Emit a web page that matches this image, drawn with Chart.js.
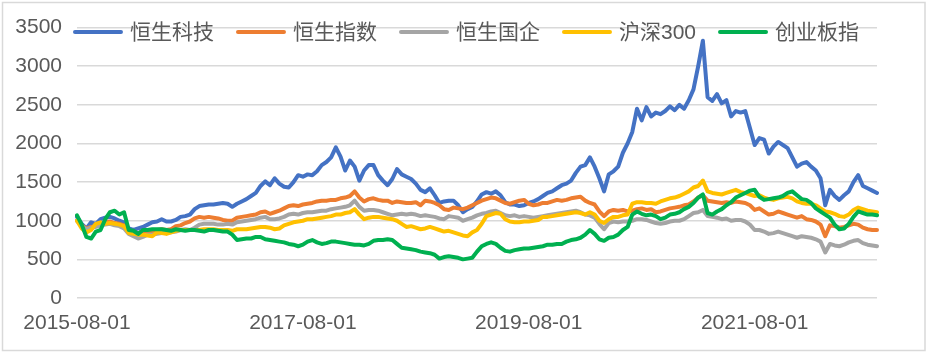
<!DOCTYPE html>
<html>
<head>
<meta charset="utf-8">
<script src="https://cdn.jsdelivr.net/npm/chart.js@4"></script>
<style>
html,body{margin:0;padding:0;background:#fff;}
#wrap{width:927px;height:352px;position:relative;}
</style>
</head>
<body>
<div id="wrap"><canvas id="c" width="927" height="352"></canvas></div>
<script>
// Semi-monthly category dates, 2015-08-01 .. 2022-09-01
const categories = [];
for (let i = 0; i < 171; i++) {
  const m = 7 + Math.floor(i / 2);
  const y = 2015 + Math.floor(m / 12);
  const mm = String(m % 12 + 1).padStart(2, '0');
  categories.push(y + '-' + mm + '-' + (i % 2 ? '16' : '01'));
}
const tickLabels = ['2015-08-01', '2017-08-01', '2019-08-01', '2021-08-01'];
const seriesNames = ['恒生科技', '恒生指数', '恒生国企', '沪深300', '创业板指'];
const seriesColors = ['#4472C4', '#ED7D31', '#A5A5A5', '#FFC000', '#00B050'];

const hsTech = [1050,960,900,980,960,1020,1040,1050,1030,1000,980,900,880,900,920,950,980,990,1020,990,
990,1010,1050,1060,1080,1150,1190,1200,1210,1210,1220,1230,1220,1180,1220,1250,1280,1320,1360,1450,
1510,1460,1550,1480,1440,1430,1500,1590,1570,1600,1590,1640,1720,1760,1820,1950,1830,1650,1780,1700,
1520,1650,1720,1720,1590,1520,1460,1540,1670,1600,1570,1540,1480,1400,1370,1420,1330,1230,1250,1260,
1260,1200,1110,1150,1180,1250,1340,1370,1350,1380,1330,1240,1210,1210,1190,1200,1230,1250,1280,1320,
1360,1380,1420,1460,1480,1520,1620,1700,1720,1820,1700,1550,1380,1600,1640,1700,1880,2000,2150,2450,
2300,2470,2350,2400,2380,2420,2480,2430,2500,2450,2560,2700,3000,3330,2600,2550,2640,2520,2560,2350,
2420,2400,2420,2200,1980,2070,2050,1870,1960,2020,1980,1940,1820,1700,1740,1760,1700,1650,1550,1200,
1400,1320,1270,1330,1380,1500,1590,1450,1420,1390,1360];

const hsi = [1000,940,900,920,930,960,980,990,970,960,940,870,850,840,860,870,860,880,890,880,
890,930,940,970,990,1030,1050,1040,1050,1040,1030,1010,1000,1000,1040,1050,1060,1070,1080,1110,
1120,1090,1110,1130,1160,1190,1200,1190,1210,1220,1230,1250,1260,1260,1270,1270,1290,1300,1320,1380,
1300,1250,1280,1290,1270,1260,1260,1230,1250,1240,1230,1230,1240,1200,1260,1250,1230,1200,1150,1140,
1170,1160,1150,1170,1200,1230,1260,1280,1300,1290,1260,1230,1220,1240,1260,1270,1220,1200,1210,1230,
1230,1250,1270,1260,1270,1290,1300,1310,1260,1230,1210,1120,1060,1120,1140,1130,1140,1120,1130,1150,
1160,1140,1150,1110,1120,1140,1160,1170,1180,1200,1210,1250,1300,1330,1260,1250,1240,1230,1240,1230,
1250,1240,1230,1200,1140,1160,1120,1080,1090,1120,1100,1080,1060,1040,1060,1020,1010,990,950,800,
940,930,910,920,940,960,950,910,890,880,880];

const hscei = [1000,930,890,910,920,940,950,960,940,930,900,830,800,770,790,820,820,830,840,840,
850,860,880,890,880,910,950,960,960,960,950,950,960,950,980,990,1000,1010,1020,1040,
1050,1020,1020,1030,1050,1080,1090,1080,1100,1110,1110,1120,1130,1130,1150,1160,1170,1180,1200,1260,
1180,1130,1140,1140,1130,1110,1090,1070,1080,1090,1080,1090,1080,1060,1070,1060,1050,1030,1020,1060,
1050,1040,1000,1020,1040,1070,1090,1100,1120,1130,1100,1070,1060,1070,1050,1060,1050,1040,1050,1060,
1070,1080,1090,1100,1110,1120,1130,1110,1080,1070,1040,960,890,970,990,980,990,990,1000,1020,
1020,1010,990,970,960,970,990,1000,1000,1020,1060,1100,1110,1140,1060,1050,1040,1020,1030,1000,
1010,1010,990,950,880,880,860,830,840,860,840,820,800,780,800,790,780,760,730,590,
700,680,670,690,720,740,750,710,690,680,670];

const csi300 = [1000,900,850,880,960,980,960,970,960,950,930,840,830,820,820,810,800,850,840,830,
850,870,880,880,880,880,880,890,890,890,880,880,880,870,890,890,890,900,910,920,
920,910,890,900,940,960,980,990,1000,1020,1020,1030,1040,1050,1060,1080,1080,1100,1110,1150,
1080,1020,1040,1050,1050,1040,1030,1020,1000,960,920,930,910,890,900,920,900,880,860,870,
850,830,810,800,850,880,960,1060,1080,1100,1090,1020,990,980,980,990,990,1000,1010,1050,
1050,1060,1070,1080,1090,1100,1110,1100,1080,1110,1080,1000,970,1020,1050,1050,1070,1080,1220,1240,
1240,1230,1230,1220,1250,1270,1290,1300,1320,1350,1380,1430,1450,1520,1380,1360,1350,1340,1360,1380,
1400,1370,1360,1340,1320,1330,1300,1280,1270,1290,1300,1310,1290,1250,1230,1220,1220,1200,1160,1120,
1110,1090,1060,1050,1080,1140,1170,1150,1130,1120,1110];

const chinext = [1070,950,790,770,860,880,1020,1110,1130,1080,1110,880,870,830,880,880,890,890,890,880,
870,890,880,870,880,880,870,860,880,880,870,860,860,820,750,760,770,770,790,790,
760,750,740,730,720,700,690,670,690,730,750,720,700,710,730,730,720,710,700,690,
690,680,700,740,750,750,760,750,700,650,640,630,620,600,590,580,560,510,530,540,
530,520,500,510,520,600,670,700,720,700,650,610,600,620,630,640,640,650,660,670,
690,690,700,700,730,750,760,780,820,880,830,760,740,780,790,820,880,920,1080,1120,
1090,1070,1080,1060,1020,1040,1080,1090,1110,1150,1180,1230,1300,1340,1100,1080,1120,1150,1200,1240,
1300,1330,1360,1390,1400,1310,1270,1280,1290,1300,1320,1360,1380,1330,1280,1270,1230,1160,1120,1080,
1040,950,890,900,960,1050,1120,1100,1080,1080,1070];

const yTicks = [0, 500, 1000, 1500, 2000, 2500, 3000, 3500];
const seriesData = [hsTech, hsi, hscei, csi300, chinext];
const FONT = "'Liberation Sans', 'Noto Sans CJK SC', sans-serif";
const TEXT = '#595959';

const frame = {
  id: 'frame',
  beforeDraw(chart) {
    const ctx = chart.ctx;
    ctx.save();
    ctx.fillStyle = '#fff';
    ctx.fillRect(0, 0, chart.width, chart.height);
    ctx.strokeStyle = '#d9d9d9';
    ctx.lineWidth = 1.5;
    ctx.strokeRect(2.5, 2.5, chart.width - 4.5, chart.height - 4);
    ctx.restore();
  }
};

const topLegend = {
  id: 'topLegend',
  afterDraw(chart) {
    const ctx = chart.ctx;
    ctx.save();
    ctx.font = '21px ' + FONT;
    const lineLen = 50, gapText = 7, gapItem = 22, cy = 32;
    const items = chart.data.datasets.map(d => ({ label: d.label, color: d.borderColor, w: ctx.measureText(d.label).width }));
    let total = items.reduce((s, it) => s + lineLen + gapText + it.w, 0) + gapItem * (items.length - 1);
    let x = 466 - total / 2;
    items.forEach(it => {
      ctx.strokeStyle = it.color;
      ctx.lineWidth = 4;
      ctx.lineCap = 'round';
      ctx.beginPath();
      ctx.moveTo(x + 2, cy);
      ctx.lineTo(x + lineLen - 2, cy);
      ctx.stroke();
      ctx.fillStyle = TEXT;
      ctx.textBaseline = 'middle';
      ctx.textAlign = 'left';
      ctx.fillText(it.label, x + lineLen + gapText, cy + 1);
      x += lineLen + gapText + it.w + gapItem;
    });
    ctx.restore();
  }
};

new Chart(document.getElementById('c'), {
  type: 'line',
  data: {
    labels: categories,
    datasets: seriesData.map((d, k) => ({
      label: seriesNames[k],
      data: d,
      borderColor: seriesColors[k],
      backgroundColor: seriesColors[k],
      borderWidth: 4,
      pointRadius: 0,
      tension: 0,
      borderJoinStyle: 'round',
      borderCapStyle: 'round',
      order: 5 - k
    }))
  },
  options: {
    responsive: false,
    animation: false,
    layout: { padding: { top: 20, right: 50, bottom: 0, left: 0 } },
    plugins: { legend: { display: false }, tooltip: { enabled: false } },
    scales: {
      x: {
        type: 'category',
        offset: false,
        grid: { display: false, drawTicks: false },
        border: { display: false },
        afterFit(s) { s.height = 54; },
        ticks: {
          autoSkip: false,
          maxRotation: 0,
          padding: 13,
          color: TEXT,
          font: { family: FONT, size: 21 },
          callback(v, i) { const l = categories[i]; return tickLabels.includes(l) ? l : ''; }
        }
      },
      y: {
        min: 0,
        max: 3500,
        afterFit(s) { s.width = 77; },
        afterBuildTicks(s) { s.ticks = yTicks.map(v => ({ value: v })); },
        grid: { color: '#d9d9d9', lineWidth: 1.5, drawTicks: false },
        border: { display: false },
        ticks: {
          padding: 15,
          color: TEXT,
          font: { family: FONT, size: 21 },
          callback(v) { return String(v); }
        }
      }
    }
  },
  plugins: [frame, topLegend]
});
</script>
</body>
</html>
